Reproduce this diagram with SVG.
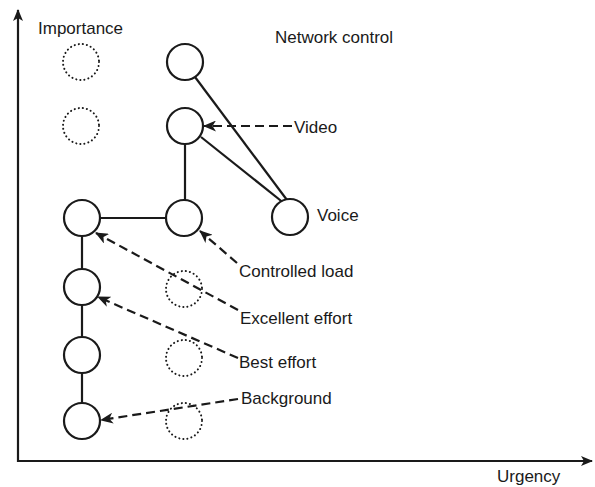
<svg xmlns="http://www.w3.org/2000/svg" width="595" height="487" viewBox="0 0 595 487">
<style>
.n{fill:#fff;stroke:#1a1a1a;stroke-width:2.2}
.d{fill:none;stroke:#1a1a1a;stroke-width:2;stroke-dasharray:0.1 4;stroke-linecap:round}
.e{stroke:#1a1a1a;stroke-width:2.2;fill:none}
.a{stroke:#1a1a1a;stroke-width:2.2;fill:none;stroke-dasharray:9 5;marker-end:url(#ah)}
.ax{stroke:#1a1a1a;stroke-width:2.2;fill:none;marker-end:url(#axh)}
text{font-family:"Liberation Sans",Arial,sans-serif;font-size:17px;fill:#1a1a1a}
</style>
<defs>
<marker id="ah" viewBox="0 0 13 11" refX="12" refY="5.5" markerWidth="13" markerHeight="11" markerUnits="userSpaceOnUse" orient="auto">
<path d="M0,0 L13,5.5 L0,11 L3.5,5.5 Z" fill="#1a1a1a"/>
</marker>
<marker id="axh" viewBox="0 0 12 10" refX="11" refY="5" markerWidth="12" markerHeight="10" markerUnits="userSpaceOnUse" orient="auto">
<path d="M0,0 L12,5 L0,10 L3,5 Z" fill="#1a1a1a"/>
</marker>
</defs>
<g id="axes">
<path class="ax" d="M18,462 V10"/>
<path class="ax" d="M17,461 H592"/>
<text x="38" y="34">Importance</text>
<text x="497" y="482">Urgency</text>
</g>
<g id="connectors">
<line class="e" x1="195" y1="77" x2="287" y2="200"/>
<line class="e" x1="201" y1="137" x2="285" y2="204"/>
<line class="e" x1="185" y1="144" x2="185" y2="200"/>
<line class="e" x1="100" y1="218" x2="166" y2="218"/>
<line class="e" x1="82" y1="236" x2="82" y2="268"/>
<line class="e" x1="82" y1="305" x2="82" y2="336"/>
<line class="e" x1="82" y1="373" x2="82" y2="403"/>
<path class="a" d="M292,126 H204"/>
<path class="a" d="M237,263 L200,231"/>
<path class="a" d="M238,310 L96,233"/>
<path class="a" d="M238,358 L98,297"/>
<path class="a" d="M238,399 L101,420"/>
</g>
<g id="dotted">
<circle class="d" cx="81" cy="62" r="18"/>
<circle class="d" cx="81" cy="126" r="18"/>
<circle class="d" cx="184" cy="289" r="18"/>
<circle class="d" cx="184" cy="358" r="18"/>
<circle class="d" cx="184" cy="421" r="18"/>
</g>
<g id="network-control"><circle class="n" cx="185" cy="62" r="18"/><text x="275" y="43">Network control</text></g>
<g id="video"><circle class="n" cx="185" cy="126" r="18"/><text x="294" y="133">Video</text></g>
<g id="controlled-load"><circle class="n" cx="184" cy="218" r="18"/><text x="239" y="277">Controlled load</text></g>
<g id="voice"><circle class="n" cx="290" cy="217" r="18"/><text x="317" y="221">Voice</text></g>
<g id="excellent-effort"><circle class="n" cx="82" cy="218" r="18"/><text x="240" y="324">Excellent effort</text></g>
<g id="best-effort"><circle class="n" cx="82" cy="287" r="18"/><text x="239" y="368">Best effort</text></g>
<g id="n-mid"><circle class="n" cx="82" cy="355" r="18"/></g>
<g id="background"><circle class="n" cx="82" cy="421" r="18"/><text x="241" y="404">Background</text></g>
</svg>
